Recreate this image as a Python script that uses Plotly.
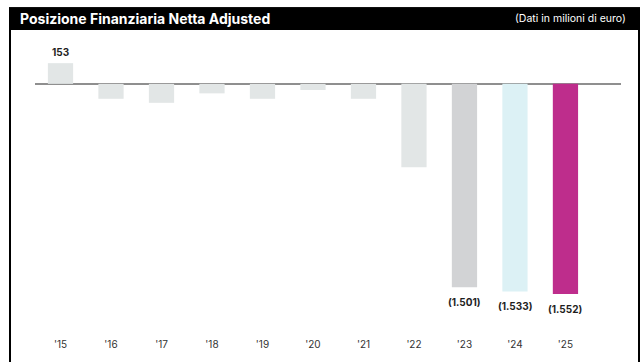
import plotly.graph_objects as go

# Net financial position (adjusted), millions of euro
years = ["'15", "'16", "'17", "'18", "'19", "'20", "'21", "'22", "'23", "'24", "'25"]
values = [153, -110, -140, -70, -110, -45, -110, -615, -1501, -1533, -1552]
bar_colors = ["#e2e6e6"] * 8 + ["#d2d3d5", "#dcf1f5", "#be2d8c"]
labelled = [True, False, False, False, False, False, False, False, True, True, True]


def fmt(v):
    s = f"{abs(v):,}".replace(",", ".")
    return s if v >= 0 else f"({s})"


W, H = 641, 362
L, R, T, B = 35, 20, 40, 42
plot_w, plot_h = W - L - R, H - T - B


def px(x):
    return (x - L) / plot_w


def py(y):
    return (H - B - y) / plot_h


FONT = "Inter"

fig = go.Figure(
    go.Bar(
        x=years,
        y=values,
        marker=dict(color=bar_colors, line=dict(width=0)),
        width=0.5,
        hoverinfo="skip",
    )
)

for yr, v, show in zip(years, values, labelled):
    if not show:
        continue
    fig.add_annotation(
        x=yr, y=v, text=fmt(v), showarrow=False,
        yanchor="bottom" if v > 0 else "top",
        yshift=3 if v > 0 else -7,
        font=dict(family=FONT, size=10, color="#1e1e1e", weight="bold"),
    )

# header band and frame
fig.add_shape(type="rect", xref="paper", yref="paper",
              x0=px(9), x1=px(640), y0=py(30), y1=py(7),
              fillcolor="black", line=dict(width=0), layer="above")
fig.add_shape(type="rect", xref="paper", yref="paper",
              x0=px(10), x1=px(639), y0=py(380), y1=py(8),
              fillcolor="rgba(0,0,0,0)", line=dict(color="black", width=2))

fig.add_annotation(xref="paper", yref="paper", x=px(18), y=py(18.5),
                   text="Posizione Finanziaria Netta Adjusted", showarrow=False,
                   xanchor="left", yanchor="middle",
                   font=dict(family=FONT, size=14, color="white", weight="bold"))
fig.add_annotation(xref="paper", yref="paper", x=px(628), y=py(18.5),
                   text="(Dati in milioni di euro)", showarrow=False,
                   xanchor="right", yanchor="middle",
                   font=dict(family=FONT, size=10.5, color="white"))

fig.update_layout(
    width=W, height=H,
    margin=dict(l=L, r=R, t=T, b=B, pad=0),
    paper_bgcolor="white", plot_bgcolor="white",
    showlegend=False,
    bargap=0.5,
    xaxis=dict(
        type="category", range=[-0.505, 11.1],
        showgrid=False, zeroline=False, showline=False, ticks="",
        tickfont=dict(family=FONT, size=10, color="#333333"),
        ticklabelstandoff=19,
    ),
    yaxis=dict(
        range=[-1729, 324], showgrid=False, showticklabels=False,
        zeroline=True, zerolinecolor="#8f8f8f", zerolinewidth=2,
        showline=False, ticks="",
    ),
)

fig.write_html("out.html")
